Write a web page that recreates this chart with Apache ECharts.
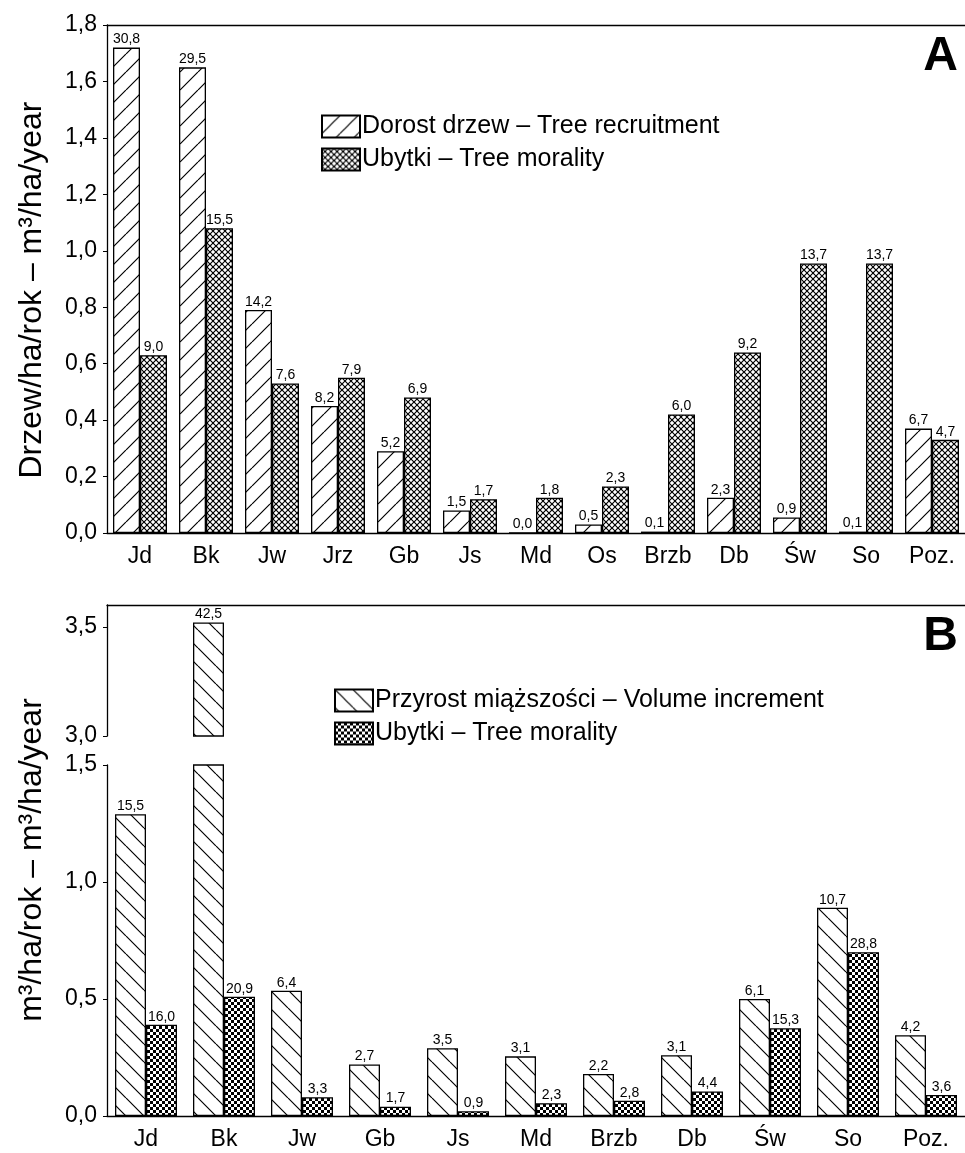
<!DOCTYPE html>
<html>
<head>
<meta charset="utf-8">
<script src="https://cdn.jsdelivr.net/npm/echarts@6/dist/echarts.min.js"></script>
<style>
  html, body { margin: 0; padding: 0; background: #fff; }
  #chart { width: 965px; height: 1153px; }
</style>
</head>
<body>
<div id="chart"></div>
<script>
// panel A
const catsA = ['Jd', 'Bk', 'Jw', 'Jrz', 'Gb', 'Js', 'Md', 'Os', 'Brzb', 'Db', 'Św', 'So', 'Poz.'];
const recruitA = [1.72, 1.65, 0.79, 0.45, 0.29, 0.08, 0, 0.03, 0.005, 0.125, 0.055, 0.005, 0.37];
const mortA = [0.63, 1.08, 0.53, 0.55, 0.48, 0.12, 0.125, 0.165, 0.42, 0.64, 0.955, 0.955, 0.33];
const recruitALabels = ['30,8', '29,5', '14,2', '8,2', '5,2', '1,5', '0,0', '0,5', '0,1', '2,3', '0,9', '0,1', '6,7'];
const mortALabels = ['9,0', '15,5', '7,6', '7,9', '6,9', '1,7', '1,8', '2,3', '6,0', '9,2', '13,7', '13,7', '4,7'];
const yTicksA = [0, 0.2, 0.4, 0.6, 0.8, 1.0, 1.2, 1.4, 1.6, 1.8];

// panel B (broken axis)
const catsB = ['Jd', 'Bk', 'Jw', 'Gb', 'Js', 'Md', 'Brzb', 'Db', 'Św', 'So', 'Poz.'];
const incrB = [1.29, 3.52, 0.535, 0.22, 0.29, 0.255, 0.18, 0.26, 0.50, 0.89, 0.345];
const mortB = [0.39, 0.51, 0.08, 0.04, 0.02, 0.055, 0.065, 0.105, 0.375, 0.70, 0.09];
const incrBLabels = ['15,5', '42,5', '6,4', '2,7', '3,5', '3,1', '2,2', '3,1', '6,1', '10,7', '4,2'];
const mortBLabels = ['16,0', '20,9', '3,3', '1,7', '0,9', '2,3', '2,8', '4,4', '15,3', '28,8', '3,6'];
const yTicksBUpper = [3.0, 3.5];
const yTicksBLower = [0, 0.5, 1.0, 1.5];

const FONT = 'Liberation Sans, Arial, sans-serif';

// fill patterns
function tile(size, draw) {
  const c = document.createElement('canvas');
  c.width = c.height = size;
  const g = c.getContext('2d');
  g.fillStyle = '#fff';
  g.fillRect(0, 0, size, size);
  draw(g, size);
  return { image: c, repeat: 'repeat' };
}
function diag(g, s, up) {
  g.strokeStyle = '#000';
  g.lineWidth = 1.2;
  g.beginPath();
  for (let k = -1; k <= 1; k++) {
    if (up) { g.moveTo(k * s, s); g.lineTo(k * s + s, 0); }
    else { g.moveTo(k * s, 0); g.lineTo(k * s + s, s); }
  }
  g.stroke();
}
const hatchUp = tile(18, (g, s) => diag(g, s, true));
const hatchDown = tile(18, (g, s) => diag(g, s, false));
const crossHatch = tile(6, (g, s) => { diag(g, s, true); diag(g, s, false); });
const checker = tile(6, (g, s) => {
  g.fillStyle = '#000';
  g.fillRect(0, 0, s, s);
  g.fillStyle = '#fff';
  g.fillRect(0, 0, 3, 3);
  g.fillRect(3, 3, 3, 3);
});

const fmt = v => v.toFixed(1).replace('.', ',');

const nameRA = 'Dorost drzew – Tree recruitment';
const nameMA = 'Ubytki – Tree morality';
const nameIB = 'Przyrost miąższości – Volume increment';
const nameMB = 'Ubytki – Tree morality ';

function barSeries(name, xi, yi, data, labels, fill, width) {
  return {
    type: 'bar',
    name: name,
    xAxisIndex: xi,
    yAxisIndex: yi,
    data: data,
    barWidth: width,
    barGap: '0%',
    clip: true,
    itemStyle: { color: fill, borderColor: '#000', borderWidth: 1.3 },
    label: {
      show: true,
      position: 'top',
      distance: 1,
      fontFamily: FONT,
      fontSize: 14,
      color: '#000',
      formatter: p => labels[p.dataIndex]
    }
  };
}

function valueAxis(grid, min, max, interval, ticks) {
  return {
    type: 'value',
    gridIndex: grid,
    min: min,
    max: max,
    interval: interval,
    axisLine: { show: true, lineStyle: { color: '#000', width: 1.3 } },
    axisTick: { show: true, length: 4, customValues: ticks, lineStyle: { color: '#000' } },
    axisLabel: { customValues: ticks, formatter: fmt, fontFamily: FONT, fontSize: 23, color: '#000', margin: 10 },
    splitLine: { show: false }
  };
}
function catAxis(grid, data, pos, labels) {
  return {
    type: 'category',
    gridIndex: grid,
    position: pos,
    data: data,
    axisLine: { show: true, lineStyle: { color: '#000', width: 1.3 } },
    axisTick: { show: false },
    axisLabel: { show: labels, fontFamily: FONT, fontSize: 23, color: '#000', margin: 12 }
  };
}

// upper segment of B only shows bars above the break, lower one hides labels of clipped bars
const incrBUpper = incrB.map(v => (v > 3 ? v : '-'));
const mortBUpper = mortB.map(v => (v > 3 ? v : '-'));
const incrBLower = incrB.map(v => (v > 1.5 ? { value: v, label: { show: false } } : v));

const chart = echarts.init(document.getElementById('chart'));
chart.setOption({
  backgroundColor: '#fff',
  animation: false,
  grid: [
    { left: 107, top: 25, width: 868, height: 508 },
    { left: 107, top: 605, width: 867, height: 131 },
    { left: 107, top: 765, width: 867, height: 351 }
  ],
  xAxis: [
    catAxis(0, catsA, 'bottom', true),
    catAxis(0, catsA, 'top', false),
    Object.assign(catAxis(1, catsB, 'bottom', false), { axisLine: { show: false } }),
    catAxis(1, catsB, 'top', false),
    catAxis(2, catsB, 'bottom', true)
  ],
  yAxis: [
    valueAxis(0, 0, 1.8, 0.2, yTicksA),
    valueAxis(1, 3.0, 3.6, 0.5, yTicksBUpper),
    valueAxis(2, 0, 1.5, 0.5, yTicksBLower)
  ],
  legend: [
    {
      data: [nameRA, nameMA], orient: 'vertical', left: 321, top: 114, padding: 0,
      itemWidth: 38, itemHeight: 22, itemGap: 8, icon: 'rect', selectedMode: false,
      textStyle: { fontFamily: FONT, fontSize: 25, color: '#000', padding: [0, 0, 0, -3] }
    },
    {
      data: [nameIB, nameMB], orient: 'vertical', left: 334, top: 688, padding: 0,
      itemWidth: 38, itemHeight: 22, itemGap: 8, icon: 'rect', selectedMode: false,
      textStyle: { fontFamily: FONT, fontSize: 25, color: '#000', padding: [0, 0, 0, -3] }
    }
  ],
  graphic: [
    { type: 'text', x: 958, y: 33, style: { text: 'A', font: 'bold 48px ' + FONT, fill: '#000', textAlign: 'right', textVerticalAlign: 'top' } },
    { type: 'text', x: 958, y: 613, style: { text: 'B', font: 'bold 48px ' + FONT, fill: '#000', textAlign: 'right', textVerticalAlign: 'top' } },
    { type: 'text', x: 32, y: 290, rotation: Math.PI / 2, style: { text: 'Drzew/ha/rok – m³/ha/year', font: '32px ' + FONT, fill: '#000', textAlign: 'center', textVerticalAlign: 'middle' } },
    { type: 'text', x: 32, y: 860, rotation: Math.PI / 2, style: { text: 'm³/ha/rok – m³/ha/year', font: '32px ' + FONT, fill: '#000', textAlign: 'center', textVerticalAlign: 'middle' } }
  ],
  series: [
    barSeries(nameRA, 0, 0, recruitA, recruitALabels, hatchUp, 27),
    barSeries(nameMA, 0, 0, mortA, mortALabels, crossHatch, 27),
    barSeries(nameIB, 2, 1, incrBUpper, incrBLabels, hatchDown, 31),
    barSeries(nameMB, 2, 1, mortBUpper, mortBLabels, checker, 31),
    barSeries(nameIB, 4, 2, incrBLower, incrBLabels, hatchDown, 31),
    barSeries(nameMB, 4, 2, mortB, mortBLabels, checker, 31)
  ]
});
</script>
</body>
</html>
